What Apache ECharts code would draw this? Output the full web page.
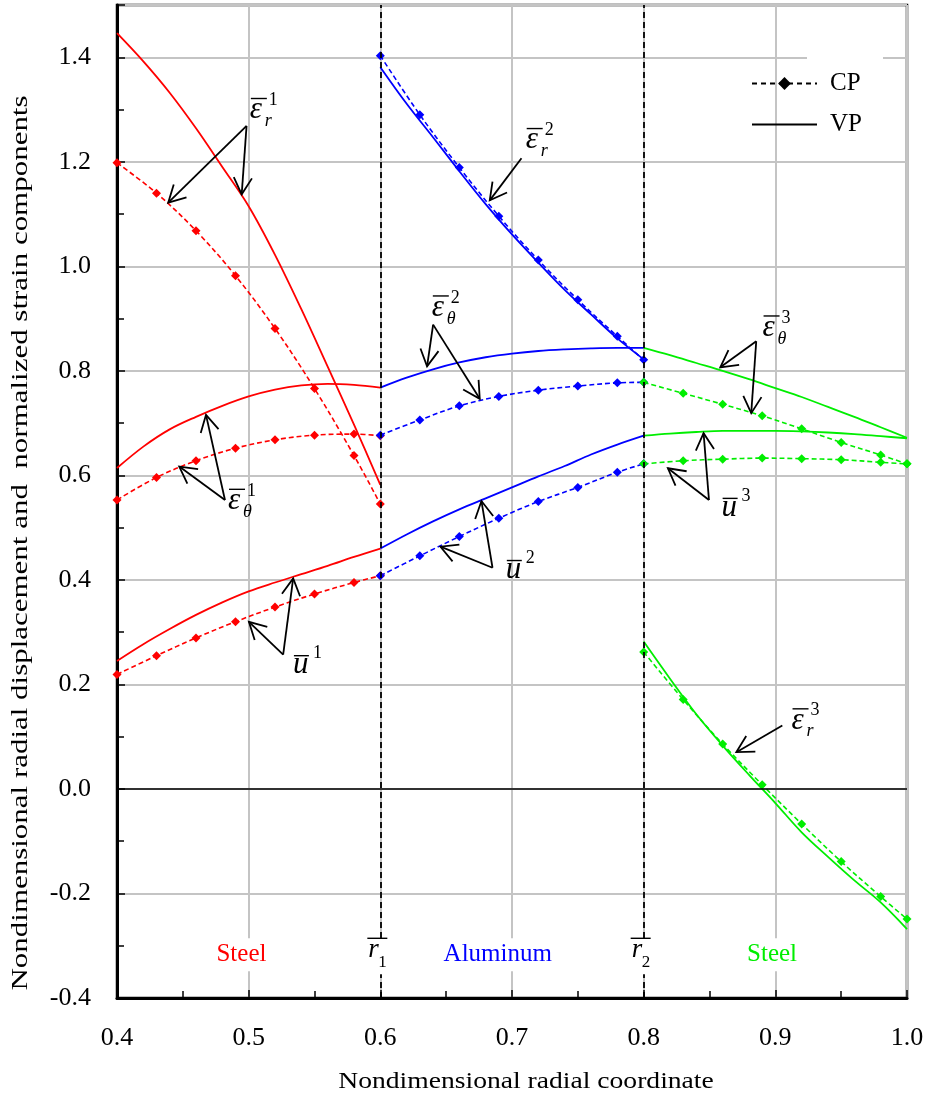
<!DOCTYPE html>
<html><head><meta charset="utf-8">
<script src="https://cdn.jsdelivr.net/npm/echarts@6/dist/echarts.min.js"></script>
<style>html,body{margin:0;padding:0;background:#fff}#c{width:930px;height:1099px}</style>
</head><body><div id="c"></div>
<script>
// ---------- data ----------
const xCP1 = [0.40,0.43,0.46,0.49,0.52,0.55,0.58,0.60];
const xCP2 = [0.60,0.63,0.66,0.69,0.72,0.75,0.78,0.80];
const xCP3 = [0.80,0.83,0.86,0.89,0.92,0.95,0.98,1.00];
const xVP1 = [0.40,0.42,0.44,0.46,0.48,0.50,0.52,0.54,0.56,0.58,0.60];
const xVP2 = [0.60,0.62,0.64,0.66,0.68,0.70,0.72,0.74,0.76,0.78,0.80];
const xVP3 = [0.80,0.82,0.84,0.86,0.88,0.90,0.92,0.94,0.96,0.98,1.00];

const er1CP = [1.198,1.140,1.068,0.982,0.881,0.766,0.638,0.545];
const et1CP = [0.553,0.596,0.628,0.652,0.668,0.677,0.679,0.676];
const u1CP  = [0.219,0.255,0.289,0.320,0.348,0.373,0.395,0.408];
const er2CP = [1.403,1.290,1.189,1.096,1.012,0.936,0.866,0.821];
const et2CP = [0.677,0.706,0.733,0.751,0.763,0.771,0.777,0.778];
const u2CP  = [0.408,0.446,0.483,0.518,0.550,0.577,0.606,0.622];
const er3CP = [0.262,0.171,0.086,0.008,-0.067,-0.139,-0.206,-0.249];
const et3CP = [0.778,0.757,0.736,0.714,0.689,0.663,0.639,0.622];
const u3CP  = [0.622,0.628,0.631,0.633,0.632,0.630,0.625,0.622];

const er1VP = [1.446,1.392,1.332,1.264,1.190,1.115,1.022,0.918,0.808,0.697,0.582];
const et1VP = [0.614,0.655,0.688,0.712,0.733,0.751,0.764,0.772,0.775,0.773,0.768];
const u1VP  = [0.245,0.277,0.306,0.333,0.357,0.378,0.395,0.411,0.427,0.444,0.460];
const er2VP = [1.381,1.311,1.247,1.182,1.119,1.061,1.007,0.955,0.908,0.862,0.822];
const et2VP = [0.768,0.787,0.803,0.816,0.826,0.833,0.838,0.841,0.843,0.844,0.844];
const u2VP  = [0.460,0.487,0.512,0.535,0.556,0.577,0.598,0.618,0.640,0.659,0.676];
const er3VP = [0.282,0.211,0.143,0.083,0.027,-0.027,-0.083,-0.130,-0.175,-0.217,-0.268];
const et3VP = [0.844,0.830,0.815,0.800,0.784,0.767,0.750,0.731,0.712,0.692,0.672];
const u3VP  = [0.676,0.680,0.683,0.685,0.685,0.685,0.684,0.682,0.679,0.675,0.671];

const xTicks = [0.4,0.5,0.6,0.7,0.8,0.9,1.0];
const yTicks = [-0.4,-0.2,0.0,0.2,0.4,0.6,0.8,1.0,1.2,1.4];
const interfaces = [0.6, 0.8];
const legendNames = ['CP','VP'];

// annotation labels (anchor = left/baseline of the main glyph, in data coords)
const annX    = [0.5009,0.4843,0.5336,0.7104,0.6391,0.6953,0.8903,0.8592,0.9123];
const annY    = [1.279,0.5312,0.2167,1.2215,0.9012,0.3988,0.8629,0.5177,0.1112];
const annMain = ['ε','ε','u','ε','ε','u','ε','u','ε'];
const annSub  = ['r','θ','','r','θ','','θ','','r'];
const annSup  = ['1','1','1','2','2','2','3','3','3'];
// annotation arrows: [fromX, fromY, toX, toY]
const arrows = [
  [0.4984,1.2688,0.4389,1.1218],[0.4984,1.2688,0.4947,1.1377],
  [0.4820,0.5528,0.4473,0.6169],[0.4820,0.5528,0.4676,0.7158],
  [0.5262,0.2570,0.5002,0.3197],[0.5262,0.2570,0.5338,0.4027],
  [0.7072,1.2067,0.6831,1.1262],
  [0.6401,0.8884,0.6355,0.8086],[0.6401,0.8884,0.6755,0.7465],
  [0.6852,0.4232,0.6457,0.4635],[0.6852,0.4232,0.6768,0.5509],
  [0.8855,0.8566,0.8582,0.8067],[0.8855,0.8566,0.8817,0.7191],
  [0.8496,0.5528,0.8184,0.6136],[0.8496,0.5528,0.8455,0.6807],
  [0.9053,0.1214,0.8704,0.0704]
];
// region labels
const regX     = [0.4945,0.6,0.6892,0.8,0.8975];
const regY     = [-0.3164,-0.3202,-0.3164,-0.3202,-0.3164];
const regText  = ['Steel','r','Aluminum','r','Steel'];
const regSub   = ['','1','','2',''];
const regColor = ['#ff0000','#000000','#0000ff','#000000','#00ee00'];

// ---------- helpers ----------
const FONT = '"Liberation Serif","Times New Roman",serif';
const RED='#ff0000', BLUE='#0000ff', GREEN='#00ee00';
function zip(xs, ys){ return xs.map((x,i)=>[x, ys[i]]); }
function txt(str, x, base, size, italic, color){
  return {type:'text', style:{text:str, x:x, y:base-0.3375*size, fontSize:size, fontFamily:FONT,
    fontStyle: italic?'italic':'normal', fill: color||'#000', align:'left', verticalAlign:'middle'}};
}
function bar(x1,x2,y,color){
  return {type:'line', shape:{x1:x1,y1:y,x2:x2,y2:y}, style:{stroke:color||'#000', lineWidth:1.4}};
}
function cp(name, xs, ys, color){
  return {name:name, type:'line', data:zip(xs,ys), smooth:0.35, symbol:'diamond', symbolSize:9,
    showAllSymbol:true, itemStyle:{color:color}, lineStyle:{color:color, width:1.6, type:[5,3]}, z:3};
}
function vp(name, xs, ys, color){
  return {name:name, type:'line', data:zip(xs,ys), smooth:0.35, showSymbol:false, symbol:'none',
    itemStyle:{color:color}, lineStyle:{color:color, width:1.8}, z:3};
}

function renderArrow(params, api){
  const p1 = api.coord([api.value(0), api.value(1)]);
  const p2 = api.coord([api.value(2), api.value(3)]);
  const ang = Math.atan2(p1[1]-p2[1], p1[0]-p2[0]);
  const len = 19, da = 0.5;
  const h1 = [p2[0]+len*Math.cos(ang+da), p2[1]+len*Math.sin(ang+da)];
  const h2 = [p2[0]+len*Math.cos(ang-da), p2[1]+len*Math.sin(ang-da)];
  return {type:'group', children:[
    {type:'line', shape:{x1:p1[0],y1:p1[1],x2:p2[0],y2:p2[1]}, style:{stroke:'#000', lineWidth:1.8}},
    {type:'polyline', shape:{points:[h1,p2,h2]}, style:{stroke:'#000', fill:null, lineWidth:1.8}}
  ]};
}
function renderAnn(params, api){
  const i = params.dataIndex;
  const p = api.coord([api.value(0), api.value(1)]);
  const L = p[0], B = p[1];
  const ch = [txt(annMain[i], L, B, 31, true)];
  if (annMain[i] === 'u') {
    ch.push(bar(L+1, L+16, B-20));
    ch.push(txt(annSup[i], L+20, B-16, 18, false));
  } else {
    ch.push(bar(L+1, L+17, B-22));
    ch.push(txt(annSup[i], L+19, B-14, 18, false));
    ch.push(txt(annSub[i], L+15, B+7, 18, true));
  }
  return {type:'group', children:ch};
}
function renderRegion(params, api){
  const i = params.dataIndex;
  const p = api.coord([api.value(0), api.value(1)]);
  const cx = p[0], cy = p[1];
  const t = regText[i];
  if (t === 'r') {
    return {type:'group', children:[
      {type:'rect', shape:{x:cx-16, y:cy-18, width:31, height:36}, style:{fill:'#fff'}},
      bar(cx-13, cx+7, cy-18, '#000'),
      txt('r', cx-12, cy+3, 27, true),
      txt(regSub[i], cx-2, cy+12, 17, false)
    ]};
  }
  const w = t.length > 5 ? 126 : 93;
  return {type:'group', children:[
    {type:'rect', shape:{x:cx-w/2-3, y:cy-16, width:w, height:33}, style:{fill:'#fff'}},
    {type:'text', style:{text:t, x:cx, y:cy, fontSize:25, fontFamily:FONT, fill:regColor[i],
      align:'center', verticalAlign:'middle'}}
  ]};
}

const chart = echarts.init(document.getElementById('c'), null, {renderer:'canvas'});
const axisLabelStyle = {fontFamily:FONT, fontSize:26, color:'#000'};

const series = [
  // Steel (inner)
  vp('εr1 VP', xVP1, er1VP, RED), vp('εθ1 VP', xVP1, et1VP, RED), vp('u1 VP', xVP1, u1VP, RED),
  cp('εr1 CP', xCP1, er1CP, RED), cp('εθ1 CP', xCP1, et1CP, RED), cp('u1 CP', xCP1, u1CP, RED),
  // Aluminum
  vp('εr2 VP', xVP2, er2VP, BLUE), vp('εθ2 VP', xVP2, et2VP, BLUE), vp('u2 VP', xVP2, u2VP, BLUE),
  cp('εr2 CP', xCP2, er2CP, BLUE), cp('εθ2 CP', xCP2, et2CP, BLUE), cp('u2 CP', xCP2, u2CP, BLUE),
  // Steel (outer)
  vp('εr3 VP', xVP3, er3VP, GREEN), vp('εθ3 VP', xVP3, et3VP, GREEN), vp('u3 VP', xVP3, u3VP, GREEN),
  cp('εr3 CP', xCP3, er3CP, GREEN), cp('εθ3 CP', xCP3, et3CP, GREEN), cp('u3 CP', xCP3, u3CP, GREEN),
  // legend entries
  {name:legendNames[0], type:'line', data:[], symbol:'diamond', symbolSize:13, itemStyle:{color:'#000'},
   lineStyle:{color:'#000', width:1.6, type:[5,4]},
   markLine:{silent:true, symbol:['none','none'], label:{show:false}, animation:false,
     data: interfaces.map(v=>({xAxis:v, lineStyle:{color:'#000', type:[6,4], width:1.8}}))
       .concat([{yAxis:0, lineStyle:{color:'#000', type:'solid', width:1.5}}])}},
  {name:legendNames[1], type:'line', data:[], symbol:'none', itemStyle:{color:'#000'},
   lineStyle:{color:'#000', width:1.8}},
  // annotations
  {name:'arrows', type:'custom', data:arrows, renderItem:renderArrow, encode:{x:[0,2], y:[1,3]},
   silent:true, z:10, clip:false},
  {name:'labels', type:'custom', data:zip(annX, annY), renderItem:renderAnn, encode:{x:0, y:1},
   silent:true, z:10, clip:false},
  {name:'regions', type:'custom', data:regX.map((x,i)=>[x, regY[i]]), renderItem:renderRegion,
   encode:{x:0, y:1}, silent:true, z:11, clip:false}
];

chart.setOption({
  animation:false,
  backgroundColor:'#fff',
  grid:{left:117, right:23, top:5, bottom:101, show:true, borderColor:'#000', borderWidth:2.5,
        backgroundColor:'transparent'},
  legend:{data:[{name:legendNames[0]}, {name:legendNames[1], icon:'path://M0,0H65V2H0Z'}],
          orient:'vertical', left:746, top:66, itemWidth:65, itemHeight:16,
          itemGap:16, textStyle:{fontFamily:FONT, fontSize:25, color:'#000', padding:[0,0,0,8]},
          selectedMode:false},
  xAxis:{type:'value', min:xTicks[0], max:xTicks[xTicks.length-1], interval:0.1,
    axisLine:{show:true, onZero:false, lineStyle:{color:'#000', width:3}},
    axisTick:{show:true, inside:true, length:8, lineStyle:{color:'#000', width:1.5}},
    minorTick:{show:true, splitNumber:2, length:7, lineStyle:{color:'#000', width:1.5}},
    splitLine:{show:true, lineStyle:{color:'#c4c4c4', width:2}},
    axisLabel:Object.assign({margin:27, formatter:v=>v.toFixed(1)}, axisLabelStyle)},
  yAxis:{type:'value', min:yTicks[0], max:1.5, interval:0.2,
    axisLine:{show:true, onZero:false, lineStyle:{color:'#000', width:3}},
    axisTick:{show:true, inside:true, length:8, lineStyle:{color:'#000', width:1.5}},
    minorTick:{show:true, splitNumber:2, length:7, lineStyle:{color:'#000', width:1.5}},
    splitLine:{show:true, lineStyle:{color:'#c4c4c4', width:2}},
    axisLabel:Object.assign({margin:26, showMaxLabel:false, formatter:v=>v.toFixed(1)}, axisLabelStyle)},
  graphic:[
    {type:'rect', z:1, silent:true, shape:{x:807, y:48, width:76, height:92}, style:{fill:'#fff'}},
    {type:'text', z:5, silent:true, x:526, y:1082, scaleX:1.2,
     style:{text:'Nondimensional radial coordinate', fontFamily:FONT, fontSize:23, fill:'#000',
            align:'center', verticalAlign:'middle'}},
    {type:'text', z:5, silent:true, x:21, y:543, rotation:Math.PI/2, scaleX:1.29,
     style:{text:'Nondimensional radial displacement and  normalized strain components', fontFamily:FONT,
            fontSize:24, fill:'#000', align:'center', verticalAlign:'middle'}}
  ],
  series:series
});
</script></body></html>
